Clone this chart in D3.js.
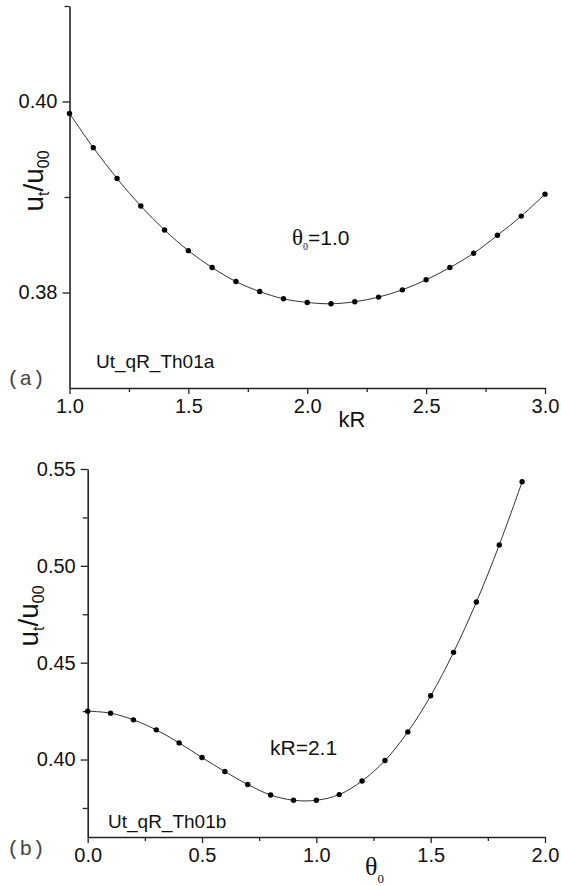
<!DOCTYPE html>
<html><head><meta charset="utf-8">
<script src="https://cdn.jsdelivr.net/npm/d3@7"></script>
<style>body{margin:0;background:#fff}</style></head>
<body>
<svg id="c" width="561" height="886"></svg>
<script>
// ---- data ----
const kR = [1.0,1.1,1.2,1.3,1.4,1.5,1.6,1.7,1.8,1.9,2.0,2.1,2.2,2.3,2.4,2.5,2.6,2.7,2.8,2.9,3.0];
const utA = [0.39875,0.39517,0.39194,0.38905,0.38654,0.38438,0.38261,0.38115,0.38010,0.37934,0.37896,0.37882,0.37903,0.37952,0.38028,0.38133,0.38261,0.38411,0.38599,0.38800,0.39030];
const theta0 = [0.0,0.1,0.2,0.3,0.4,0.5,0.6,0.7,0.8,0.9,1.0,1.1,1.2,1.3,1.4,1.5,1.6,1.7,1.8,1.9];
const utB = [0.42497,0.42394,0.42048,0.41531,0.40858,0.40103,0.39380,0.38707,0.38170,0.37896,0.37896,0.38190,0.38894,0.39948,0.41427,0.43289,0.45533,0.48133,0.51081,0.54338];
const xMajorA = [1.0,1.5,2.0,2.5,3.0];
const xMinorA = [1.25,1.75,2.25,2.75];
const yMajorA = [0.38,0.40];
const yMinorA = [0.39,0.41];
const xMajorB = [0.0,0.5,1.0,1.5,2.0];
const xMinorB = [0.25,0.75,1.25,1.75];
const yMajorB = [0.40,0.45,0.50,0.55];
const yMinorB = [0.375,0.425,0.475,0.525];

const svg = d3.select("#c");
const SANS = "'Liberation Sans', Arial, sans-serif";
const SERIF = "'Liberation Serif', 'Times New Roman', serif";
const MONO = "'Liberation Mono', 'Courier New', monospace";

function panel(cfg){
  const g = svg.append("g");
  const x = d3.scaleLinear().domain(cfg.xd).range(cfg.xr);
  const y = d3.scaleLinear().domain(cfg.yd).range(cfg.yr);
  // minor ticks
  g.append("g").attr("transform",`translate(0,${cfg.yr[0]})`)
    .call(d3.axisBottom(x).tickValues(cfg.xMinor).tickSize(4).tickSizeOuter(0).tickFormat(""))
    .call(a=>a.select(".domain").remove());
  g.append("g").attr("transform",`translate(${cfg.xr[0]},0)`)
    .call(d3.axisLeft(y).tickValues(cfg.yMinor).tickSize(5).tickSizeOuter(0).tickFormat(""))
    .call(a=>a.select(".domain").remove());
  // major
  g.append("g").attr("transform",`translate(0,${cfg.yr[0]})`)
    .call(d3.axisBottom(x).tickValues(cfg.xMajor).tickSize(6).tickSizeOuter(0).tickPadding(5).tickFormat(d3.format(".1f")));
  g.append("g").attr("transform",`translate(${cfg.xr[0]},0)`)
    .call(d3.axisLeft(y).tickValues(cfg.yMajor).tickSize(7).tickSizeOuter(0).tickPadding(5).tickFormat(d3.format(".2f")));
  g.selectAll(".domain").attr("stroke","#222").attr("stroke-width",1.6);
  g.selectAll(".tick line").attr("stroke","#222").attr("stroke-width",1.3);
  g.selectAll(".tick text").attr("fill","#111").style("font-family",SANS).style("font-size","20px");
  // line
  const line = d3.line().x((d,i)=>x(cfg.xs[i])).y(d=>y(d)).curve(d3.curveCatmullRom.alpha(0.5));
  g.append("path").datum(cfg.ys).attr("d",line).attr("fill","none").attr("stroke","#333").attr("stroke-width",1);
  g.selectAll("circle.pt").data(cfg.ys).join("circle").attr("class","pt")
    .attr("cx",(d,i)=>x(cfg.xs[i])).attr("cy",d=>y(d)).attr("r",2.7).attr("fill","#000");
  return {g,x,y};
}

panel({xd:[1,3],xr:[69.5,545],yd:[0.37,0.41],yr:[388,6],
  xMajor:xMajorA,xMinor:xMinorA,yMajor:yMajorA,yMinor:yMinorA,xs:kR,ys:utA});
panel({xd:[0,2],xr:[87.7,545],yd:[0.36,0.55],yr:[837,469],
  xMajor:xMajorB,xMinor:xMinorB,yMajor:yMajorB,yMinor:yMinorB,xs:theta0,ys:utB});

// y-axis labels
function ylab(xb,yc){
  const t = svg.append("text").attr("transform",`translate(${xb},${yc}) rotate(-90)`)
    .attr("text-anchor","middle").style("font-family",SANS).style("font-size","28px").attr("fill","#111");
  t.append("tspan").text("u");
  t.append("tspan").attr("dy",6).style("font-size","16px").text("t");
  t.append("tspan").attr("dy",-6).text("/u");
  t.append("tspan").attr("dy",6).style("font-size","16px").text("00");
}
ylab(43,181);
ylab(38,616);

// x labels
svg.append("text").attr("x",352).attr("y",427).attr("text-anchor","middle")
  .style("font-family",SANS).style("font-size","22px").attr("fill","#111").text("kR");
const tx = svg.append("text").attr("x",365).attr("y",875).style("font-family",SERIF).style("font-size","26px").attr("fill","#111");
tx.append("tspan").text("θ");
tx.append("tspan").attr("dy",8).style("font-size","13px").text("0");

// annotations
const ta = svg.append("text").attr("x",292).attr("y",245).style("font-family",SANS).style("font-size","21px").attr("fill","#111");
ta.append("tspan").style("font-family",SERIF).style("font-size","23px").text("θ");
ta.append("tspan").attr("dy",5).style("font-family",SERIF).style("font-size","10px").text("0");
ta.append("tspan").attr("dy",-5).text("=1.0");

svg.append("text").attr("x",270).attr("y",755).style("font-family",SANS).style("font-size","21px").attr("fill","#111").text("kR=2.1");

svg.append("text").attr("x",96).attr("y",368).style("font-family",SANS).style("font-size","19px").attr("fill","#111").text("Ut_qR_Th01a");
svg.append("text").attr("x",108).attr("y",828).style("font-family",SANS).style("font-size","19px").attr("fill","#111").text("Ut_qR_Th01b");

svg.append("text").attr("x",7).attr("y",385).style("font-family",MONO).style("font-size","21px").attr("fill","#444").text("(a)");
svg.append("text").attr("x",7).attr("y",855).style("font-family",MONO).style("font-size","21px").attr("fill","#444").text("(b)");
</script>
</body></html>
